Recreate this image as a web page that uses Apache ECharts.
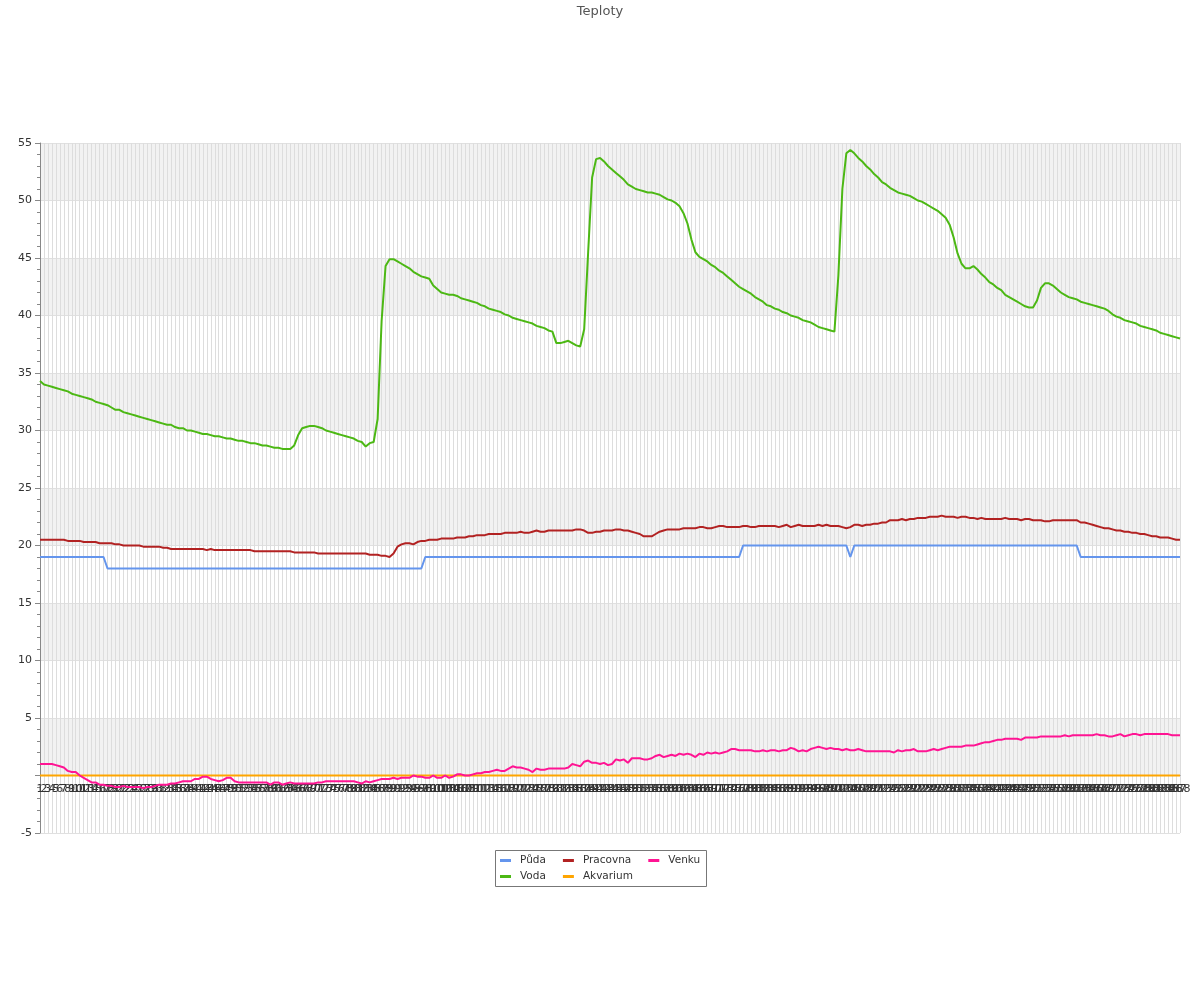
<!DOCTYPE html>
<html>
<head>
<meta charset="utf-8">
<script src="https://cdn.jsdelivr.net/npm/echarts@6/dist/echarts.min.js"></script>
<style>html,body{margin:0;padding:0;background:#fff}#c{width:1200px;height:1000px}</style>
</head>
<body>
<div id="c"></div>
<script>
// Category labels (sample numbers)
var categories = [];
for (var k = 1; k <= 288; k++) { categories.push(String(k)); }

var yTicks = [-5, 0, 5, 10, 15, 20, 25, 30, 35, 40, 45, 50, 55];

var puda = [
19,19,19,19,19,19,19,19,19,19,19,19,19,19,19,19,19,18,18,18,
18,18,18,18,18,18,18,18,18,18,18,18,18,18,18,18,18,18,18,18,
18,18,18,18,18,18,18,18,18,18,18,18,18,18,18,18,18,18,18,18,
18,18,18,18,18,18,18,18,18,18,18,18,18,18,18,18,18,18,18,18,
18,18,18,18,18,18,18,18,18,18,18,18,18,18,18,18,18,19,19,19,
19,19,19,19,19,19,19,19,19,19,19,19,19,19,19,19,19,19,19,19,
19,19,19,19,19,19,19,19,19,19,19,19,19,19,19,19,19,19,19,19,
19,19,19,19,19,19,19,19,19,19,19,19,19,19,19,19,19,19,19,19,
19,19,19,19,19,19,19,19,19,19,19,19,19,19,19,19,19,20,20,20,
20,20,20,20,20,20,20,20,20,20,20,20,20,20,20,20,20,20,20,20,
20,20,20,20,19,20,20,20,20,20,20,20,20,20,20,20,20,20,20,20,
20,20,20,20,20,20,20,20,20,20,20,20,20,20,20,20,20,20,20,20,
20,20,20,20,20,20,20,20,20,20,20,20,20,20,20,20,20,20,20,20,
20,20,19,19,19,19,19,19,19,19,19,19,19,19,19,19,19,19,19,19,
19,19,19,19,19,19,19,19
];

var voda = [
34.3,34.0,33.9,33.8,33.7,33.6,33.5,33.4,33.2,33.1,
33.0,32.9,32.8,32.7,32.5,32.4,32.3,32.2,32.0,31.8,
31.8,31.6,31.5,31.4,31.3,31.2,31.1,31.0,30.9,30.8,
30.7,30.6,30.5,30.5,30.3,30.2,30.2,30.0,30.0,29.9,
29.8,29.7,29.7,29.6,29.5,29.5,29.4,29.3,29.3,29.2,
29.1,29.1,29.0,28.9,28.9,28.8,28.7,28.7,28.6,28.5,
28.5,28.4,28.4,28.4,28.7,29.6,30.2,30.3,30.4,30.4,
30.3,30.2,30.0,29.9,29.8,29.7,29.6,29.5,29.4,29.3,
29.1,29.0,28.6,28.9,29.0,31.0,39.5,44.3,44.9,44.9,
44.7,44.5,44.3,44.1,43.8,43.6,43.4,43.3,43.2,42.6,
42.3,42.0,41.9,41.8,41.8,41.7,41.5,41.4,41.3,41.2,
41.1,40.9,40.8,40.6,40.5,40.4,40.3,40.1,40.0,39.8,
39.7,39.6,39.5,39.4,39.3,39.1,39.0,38.9,38.7,38.6,
37.6,37.6,37.7,37.8,37.6,37.4,37.3,38.8,45.5,52.0,
53.6,53.7,53.4,53.0,52.7,52.4,52.1,51.8,51.4,51.2,
51.0,50.9,50.8,50.7,50.7,50.6,50.5,50.3,50.1,50.0,
49.8,49.5,48.9,48.0,46.6,45.5,45.1,44.9,44.7,44.4,
44.2,43.9,43.7,43.4,43.1,42.8,42.5,42.3,42.1,41.9,
41.6,41.4,41.2,40.9,40.8,40.6,40.5,40.3,40.2,40.0,
39.9,39.8,39.6,39.5,39.4,39.2,39.0,38.9,38.8,38.7,
38.6,43.5,51.0,54.1,54.4,54.1,53.7,53.4,53.0,52.7,
52.3,52.0,51.6,51.4,51.1,50.9,50.7,50.6,50.5,50.4,
50.2,50.0,49.9,49.7,49.5,49.3,49.1,48.8,48.5,47.9,
46.8,45.4,44.5,44.1,44.1,44.3,44.0,43.6,43.3,42.9,
42.7,42.4,42.2,41.8,41.6,41.4,41.2,41.0,40.8,40.7,
40.7,41.3,42.4,42.8,42.8,42.6,42.3,42.0,41.8,41.6,
41.5,41.4,41.2,41.1,41.0,40.9,40.8,40.7,40.6,40.4,
40.1,39.9,39.8,39.6,39.5,39.4,39.3,39.1,39.0,38.9,
38.8,38.7,38.5,38.4,38.3,38.2,38.1,38.0
];

var pracovna = [
20.5,20.5,20.5,20.5,20.5,20.5,20.5,20.4,20.4,20.4,
20.4,20.3,20.3,20.3,20.3,20.2,20.2,20.2,20.2,20.1,
20.1,20.0,20.0,20.0,20.0,20.0,19.9,19.9,19.9,19.9,
19.9,19.8,19.8,19.7,19.7,19.7,19.7,19.7,19.7,19.7,
19.7,19.7,19.6,19.7,19.6,19.6,19.6,19.6,19.6,19.6,
19.6,19.6,19.6,19.6,19.5,19.5,19.5,19.5,19.5,19.5,
19.5,19.5,19.5,19.5,19.4,19.4,19.4,19.4,19.4,19.4,
19.3,19.3,19.3,19.3,19.3,19.3,19.3,19.3,19.3,19.3,
19.3,19.3,19.3,19.2,19.2,19.2,19.1,19.1,19.0,19.3,
19.9,20.1,20.2,20.2,20.1,20.3,20.4,20.4,20.5,20.5,
20.5,20.6,20.6,20.6,20.6,20.7,20.7,20.7,20.8,20.8,
20.9,20.9,20.9,21.0,21.0,21.0,21.0,21.1,21.1,21.1,
21.1,21.2,21.1,21.1,21.2,21.3,21.2,21.2,21.3,21.3,
21.3,21.3,21.3,21.3,21.3,21.4,21.4,21.3,21.1,21.1,
21.2,21.2,21.3,21.3,21.3,21.4,21.4,21.3,21.3,21.2,
21.1,21.0,20.8,20.8,20.8,21.0,21.2,21.3,21.4,21.4,
21.4,21.4,21.5,21.5,21.5,21.5,21.6,21.6,21.5,21.5,
21.6,21.7,21.7,21.6,21.6,21.6,21.6,21.7,21.7,21.6,
21.6,21.7,21.7,21.7,21.7,21.7,21.6,21.7,21.8,21.6,
21.7,21.8,21.7,21.7,21.7,21.7,21.8,21.7,21.8,21.7,
21.7,21.7,21.6,21.5,21.6,21.8,21.8,21.7,21.8,21.8,
21.9,21.9,22.0,22.0,22.2,22.2,22.2,22.3,22.2,22.3,
22.3,22.4,22.4,22.4,22.5,22.5,22.5,22.6,22.5,22.5,
22.5,22.4,22.5,22.5,22.4,22.4,22.3,22.4,22.3,22.3,
22.3,22.3,22.3,22.4,22.3,22.3,22.3,22.2,22.3,22.3,
22.2,22.2,22.2,22.1,22.1,22.2,22.2,22.2,22.2,22.2,
22.2,22.2,22.0,22.0,21.9,21.8,21.7,21.6,21.5,21.5,
21.4,21.3,21.3,21.2,21.2,21.1,21.1,21.0,21.0,20.9,
20.8,20.8,20.7,20.7,20.7,20.6,20.5,20.5
];

var akvarium = [
0,0,0,0,0,0,0,0,0,0,0,0,0,0,0,0,0,0,0,0,
0,0,0,0,0,0,0,0,0,0,0,0,0,0,0,0,0,0,0,0,
0,0,0,0,0,0,0,0,0,0,0,0,0,0,0,0,0,0,0,0,
0,0,0,0,0,0,0,0,0,0,0,0,0,0,0,0,0,0,0,0,
0,0,0,0,0,0,0,0,0,0,0,0,0,0,0,0,0,0,0,0,
0,0,0,0,0,0,0,0,0,0,0,0,0,0,0,0,0,0,0,0,
0,0,0,0,0,0,0,0,0,0,0,0,0,0,0,0,0,0,0,0,
0,0,0,0,0,0,0,0,0,0,0,0,0,0,0,0,0,0,0,0,
0,0,0,0,0,0,0,0,0,0,0,0,0,0,0,0,0,0,0,0,
0,0,0,0,0,0,0,0,0,0,0,0,0,0,0,0,0,0,0,0,
0,0,0,0,0,0,0,0,0,0,0,0,0,0,0,0,0,0,0,0,
0,0,0,0,0,0,0,0,0,0,0,0,0,0,0,0,0,0,0,0,
0,0,0,0,0,0,0,0,0,0,0,0,0,0,0,0,0,0,0,0,
0,0,0,0,0,0,0,0,0,0,0,0,0,0,0,0,0,0,0,0,
0,0,0,0,0,0,0,0
];

var venku = [
1.0,1.0,1.0,1.0,0.9,0.8,0.7,0.4,0.3,0.3,
0.0,-0.2,-0.4,-0.6,-0.6,-0.8,-0.8,-0.9,-0.9,-1.0,
-1.0,-0.9,-1.0,-1.0,-1.0,-1.0,-1.1,-1.0,-1.0,-0.9,
-0.8,-0.8,-0.8,-0.7,-0.7,-0.6,-0.5,-0.5,-0.5,-0.3,
-0.3,-0.1,-0.1,-0.3,-0.4,-0.5,-0.4,-0.2,-0.2,-0.5,
-0.6,-0.6,-0.6,-0.6,-0.6,-0.6,-0.6,-0.6,-0.8,-0.6,
-0.6,-0.8,-0.7,-0.6,-0.7,-0.7,-0.7,-0.7,-0.7,-0.7,
-0.6,-0.6,-0.5,-0.5,-0.5,-0.5,-0.5,-0.5,-0.5,-0.5,
-0.6,-0.7,-0.5,-0.6,-0.5,-0.4,-0.3,-0.3,-0.3,-0.2,
-0.3,-0.2,-0.2,-0.2,0.0,-0.1,-0.1,-0.2,-0.2,0.0,
-0.2,-0.2,0.0,-0.2,-0.1,0.1,0.1,0.0,0.0,0.1,
0.2,0.2,0.3,0.3,0.4,0.5,0.4,0.4,0.6,0.8,
0.7,0.7,0.6,0.5,0.3,0.6,0.5,0.5,0.6,0.6,
0.6,0.6,0.6,0.7,1.0,0.9,0.8,1.2,1.3,1.1,
1.1,1.0,1.1,0.9,1.0,1.4,1.3,1.4,1.1,1.5,
1.5,1.5,1.4,1.4,1.5,1.7,1.8,1.6,1.7,1.8,
1.7,1.9,1.8,1.9,1.8,1.6,1.9,1.8,2.0,1.9,
2.0,1.9,2.0,2.1,2.3,2.3,2.2,2.2,2.2,2.2,
2.1,2.1,2.2,2.1,2.2,2.2,2.1,2.2,2.2,2.4,
2.3,2.1,2.2,2.1,2.3,2.4,2.5,2.4,2.3,2.4,
2.3,2.3,2.2,2.3,2.2,2.2,2.3,2.2,2.1,2.1,
2.1,2.1,2.1,2.1,2.1,2.0,2.2,2.1,2.2,2.2,
2.3,2.1,2.1,2.1,2.2,2.3,2.2,2.3,2.4,2.5,
2.5,2.5,2.5,2.6,2.6,2.6,2.7,2.8,2.9,2.9,
3.0,3.1,3.1,3.2,3.2,3.2,3.2,3.1,3.3,3.3,
3.3,3.3,3.4,3.4,3.4,3.4,3.4,3.4,3.5,3.4,
3.5,3.5,3.5,3.5,3.5,3.5,3.6,3.5,3.5,3.4,
3.4,3.5,3.6,3.4,3.5,3.6,3.6,3.5,3.6,3.6,
3.6,3.6,3.6,3.6,3.6,3.5,3.5,3.5
];

var FONT = 'DejaVu Sans';
var chart = echarts.init(document.getElementById('c'), null, {renderer: 'canvas'});

function line(name, data, color) {
  return {
    name: name, type: 'line', data: data, showSymbol: false, symbol: 'none',
    smooth: false, animation: false,
    lineStyle: {width: 2, color: color}, itemStyle: {color: color}
  };
}

var legendCommon = {
  orient: 'horizontal', left: 500, itemGap: 17, itemWidth: 11, itemHeight: 3,
  icon: 'rect', padding: 0, z: 5,
  textStyle: {fontFamily: FONT, fontSize: 10.5, color: '#333', padding: [0, 0, 0, 4]}
};

// pixel distance between the bottom of the plot (-5) and the zero line
var gridTop = 143, gridBottom = 167, plotH = 1000 - gridTop - gridBottom;
var zeroOffset = plotH * (0 - yTicks[0]) / (yTicks[yTicks.length - 1] - yTicks[0]);

chart.setOption({
  animation: false,
  backgroundColor: '#fff',
  title: {
    text: 'Teploty', left: 'center', top: 0,
    textStyle: {fontFamily: FONT, fontSize: 13, fontWeight: 'normal', color: '#555'}
  },
  graphic: [{
    type: 'rect', z: 1,
    shape: {x: 495.5, y: 850.5, width: 211, height: 36},
    style: {fill: '#fff', stroke: '#777', lineWidth: 1}
  }],
  legend: [
    Object.assign({}, legendCommon, {top: 855, data: ['Půda', 'Pracovna', 'Venku']}),
    Object.assign({}, legendCommon, {top: 871, data: ['Voda', 'Akvarium']})
  ],
  grid: {left: 40, right: 20, top: gridTop, bottom: gridBottom, containLabel: false},
  xAxis: {
    type: 'category', boundaryGap: false, data: categories,
    position: 'bottom', offset: -zeroOffset,
    axisLine: {onZero: false, lineStyle: {color: '#777'}},
    axisTick: {show: false},
    axisLabel: {interval: 0, fontFamily: FONT, fontSize: 11, color: '#333', margin: 8},
    splitLine: {show: true, interval: 0, lineStyle: {color: '#dddddd', width: 1}}
  },
  yAxis: {
    type: 'value', min: yTicks[0], max: yTicks[yTicks.length - 1], interval: 5,
    axisLine: {show: true, lineStyle: {color: '#888'}},
    axisTick: {show: true, length: 5, lineStyle: {color: '#888'}},
    minorTick: {show: true, splitNumber: 5, length: 3, lineStyle: {color: '#888'}},
    axisLabel: {
      fontFamily: FONT, fontSize: 11, color: '#333', margin: 8,
      formatter: function (v) { return v === 0 ? '' : String(v); }
    },
    splitLine: {show: true, lineStyle: {color: '#e0e0e0'}},
    splitArea: {show: true, areaStyle: {color: ['rgba(255,255,255,0)', '#f2f2f2']}}
  },
  series: [
    line('Půda', puda, '#6495ed'),
    line('Voda', voda, '#4cb814'),
    line('Pracovna', pracovna, '#b22222'),
    line('Akvarium', akvarium, '#ffa500'),
    line('Venku', venku, '#ff1493')
  ]
});
</script>
</body>
</html>
